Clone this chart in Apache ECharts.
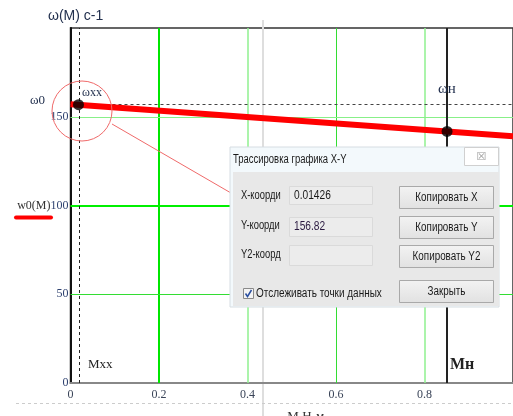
<!DOCTYPE html>
<html><head><meta charset="utf-8">
<script src="https://cdn.jsdelivr.net/npm/echarts@6/dist/echarts.min.js"></script>
<style>html,body{margin:0;padding:0;background:#fff}#c{width:513px;height:416px}</style>
</head><body><div id="c"></div>
<script>
// Data
var lineM = [0, 1];                 // M, Н·м
var lineW = [157, 139];             // ω(M), c-1
var markM = [0.018, 0.851];         // Mxx, Mн
var markW = [156.8, 141.7];         // ωxx, ωн
var omega0 = 157;
var xTicks = [0, 0.2, 0.4, 0.6, 0.8];
var yTicks = [0, 50, 100, 150];
var xGrid = [0.2, 0.4, 0.6, 0.8];
var yGrid = [50, 100, 150];
var xGridColors = ['#00e600', '#8ff08f', '#33dd33', '#8ff08f'];
var xGridWidths = [2, 1.5, 1, 1.5];
var yGridColors = ['#33dd33', '#00f000', '#88f088'];
var yGridWidths = [1, 2, 1];

var chart = echarts.init(document.getElementById('c'), null, {renderer: 'canvas'});
var serif = '"Liberation Serif", "DejaVu Serif", serif';
var sans = '"Liberation Sans", Arial, sans-serif';
var navy = '#22304e';

var gridLines = xGrid.map(function (v, i) {
  return {xAxis: v, lineStyle: {color: xGridColors[i], width: xGridWidths[i], type: 'solid'}};
}).concat(yGrid.map(function (v, i) {
  return {yAxis: v, lineStyle: {color: yGridColors[i], width: yGridWidths[i], type: 'solid'}};
}));

// dialog text: horizontally condensed sans to imitate the Windows UI font
function dlgText(x, y, t, opt) {
  opt = opt || {};
  var s = {text: t, x: 0, y: 0, fill: opt.fill || '#1a1a1a', font: (opt.size || 12) + 'px ' + sans,
    textVerticalAlign: 'middle', textAlign: opt.align || 'left'};
  return {type: 'text', z: 103, x: x, y: y, scaleX: opt.sx || 0.8, scaleY: 1, style: s};
}
function box(x, y, w, h, fill, stroke, z) {
  return {type: 'rect', z: z || 101, shape: {x: x, y: y, width: w, height: h},
    style: {fill: fill, stroke: stroke || null, lineWidth: 1}};
}
function button(y, h, label) {
  return [
    {type: 'rect', z: 102, shape: {x: 399.5, y: y + 0.5, width: 94, height: h},
      style: {fill: new echarts.graphic.LinearGradient(0, 0, 0, 1, [{offset: 0, color: '#f3f3f3'}, {offset: 1, color: '#e1e1e1'}]), stroke: '#a9a9a9', lineWidth: 1}},
    dlgText(446.5, y + h / 2 + 0.5, label, {align: 'center', sx: 0.82})
  ];
}

var graphics = [
  // page artifacts
  {type: 'line', z: 0, shape: {x1: 263, y1: 20, x2: 263, y2: 416}, style: {stroke: '#dedede', lineWidth: 2}},
  {type: 'line', z: 0, shape: {x1: 16, y1: 403.5, x2: 513, y2: 403.5}, style: {stroke: '#cccccc', lineWidth: 1, lineDash: [3, 3]}},
  // title
  {type: 'text', left: 48, top: 9, style: {text: 'ω(M) c-1', fill: navy, font: '14px ' + sans}},
  {type: 'text', left: 30, top: 94, style: {text: 'ω0', fill: navy, font: '13px ' + serif}},
  // annotations
  {type: 'text', left: 82, top: 87, z: 20, style: {text: 'ωxx', fill: navy, font: '12px ' + serif}},
  {type: 'text', left: 438, top: 82, z: 20, style: {text: 'ωн', fill: navy, font: '15px ' + serif}},
  {type: 'text', left: 88, top: 358, z: 20, style: {text: 'Mxx', fill: '#222', font: '13px ' + serif}},
  {type: 'text', left: 450, top: 357, z: 20, style: {text: 'Mн', fill: '#222', font: 'bold 16px ' + serif}},
  // red underline legend mark
  {type: 'line', z: 20, shape: {x1: 16, y1: 217.5, x2: 51, y2: 217.5}, style: {stroke: '#ff0000', lineWidth: 4, lineCap: 'round'}},
  // circle and pointer
  {type: 'circle', z: 30, shape: {cx: 82, cy: 111, r: 30}, style: {fill: null, stroke: '#f06a6a', lineWidth: 1}},
  {type: 'line', z: 30, shape: {x1: 112, y1: 124, x2: 231, y2: 193}, style: {stroke: '#f06a6a', lineWidth: 1}},
  // dialog
  box(230, 147, 269, 160, '#f3f9fc', '#d6dde2', 100),
  box(233, 172, 266, 134, '#e8e8e8', null, 101),
  box(464.5, 147.5, 34, 18, '#ffffff', '#d0d0d0', 102),
  {type: 'text', z: 103, style: {text: '☒', x: 481.5, y: 157, textAlign: 'center', textVerticalAlign: 'middle', fill: '#9a9a9a', font: '11px "DejaVu Sans", sans-serif'}},
  dlgText(233, 160, 'Трассировка графика X-Y', {sx: 0.79}),
  dlgText(241, 196, 'X-коорди', {sx: 0.78}),
  dlgText(241, 226, 'Y-коорди', {sx: 0.78}),
  dlgText(241, 255, 'Y2-коорд', {sx: 0.78}),
  box(289.5, 186.5, 83, 18, '#ececec', '#dadada', 102),
  box(289.5, 217.5, 83, 19, '#ececec', '#dadada', 102),
  box(289.5, 245.5, 83, 20, '#ececec', '#dadada', 102),
  dlgText(294, 196, '0.01426', {sx: 0.85}),
  dlgText(294, 227, '156.82', {fill: '#2a1a40', sx: 0.85}),
  // checkbox
  box(243.5, 288.5, 10, 10, '#f4f4f4', '#8a8a8a', 102),
  {type: 'polyline', z: 103, shape: {points: [[245.5, 293.5], [247.5, 296.5], [251.5, 290]]}, style: {stroke: '#2a4fa0', lineWidth: 1.5, fill: null}},
  dlgText(256, 294, 'Отслеживать точки данных', {sx: 0.83})
].concat(button(186, 22, 'Копировать X'))
 .concat(button(216, 22, 'Копировать Y'))
 .concat(button(245, 22, 'Копировать Y2'))
 .concat(button(280, 22, 'Закрыть'));

chart.setOption({
  animation: false,
  backgroundColor: '#ffffff',
  grid: {left: 70.5, right: 0, top: 28, bottom: 33, outerBoundsMode: 'none', containLabel: false,
    show: true, borderColor: '#333', borderWidth: 1.5, backgroundColor: 'transparent'},
  xAxis: {
    type: 'value', min: 0, max: 1, interval: 0.2,
    name: 'М Н-м', nameLocation: 'middle', nameGap: 27,
    nameTextStyle: {fontFamily: serif, fontSize: 13, color: '#333', padding: [0, 0, 0, 28]},
    axisLine: {lineStyle: {color: '#888', width: 2}},
    axisTick: {show: false},
    splitLine: {show: false},
    axisLabel: {
      margin: 6, fontFamily: serif, fontSize: 12, color: '#3a4458',
      formatter: function (v) { return xTicks.indexOf(Math.round(v * 10) / 10) >= 0 ? String(Math.round(v * 10) / 10) : ''; }
    }
  },
  yAxis: {
    type: 'value', min: 0, max: 200, interval: 50,
    axisLine: {show: true, lineStyle: {color: '#111', width: 2}},
    axisTick: {show: false},
    splitLine: {show: false},
    axisLabel: {
      margin: 2, fontFamily: serif, fontSize: 12, color: '#2f4270',
      formatter: function (v) {
        if (yTicks.indexOf(v) < 0) return '';
        return v === 100 ? '{n|w0(M)}100' : String(v);
      },
      rich: {n: {fontFamily: serif, fontSize: 12, color: '#333'}}
    }
  },
  graphic: graphics,
  series: [
    {
      type: 'line', z: 3, silent: true, symbol: 'none',
      data: [],
      markLine: {silent: true, symbol: 'none', label: {show: false}, data: gridLines}
    },
    {
      type: 'line', z: 4, silent: true, symbol: 'none',
      data: [],
      markLine: {silent: true, symbol: 'none', label: {show: false}, data: [
        {xAxis: markM[0], lineStyle: {color: '#222', width: 1, type: [3, 3]}},
        {yAxis: omega0, lineStyle: {color: '#444', width: 1, type: [3, 3]}},
        {xAxis: markM[1], lineStyle: {color: '#222', width: 2, type: 'solid'}}
      ]}
    },
    {
      type: 'line', z: 6, symbol: 'none', silent: true,
      lineStyle: {color: '#ff0000', width: 6},
      data: lineM.map(function (m, i) { return [m, lineW[i]]; })
    },
    {
      type: 'scatter', z: 8, silent: true, symbolSize: 11,
      itemStyle: {color: '#000'},
      data: markM.map(function (m, i) { return [m, markW[i]]; })
    }
  ]
});
</script></body></html>
